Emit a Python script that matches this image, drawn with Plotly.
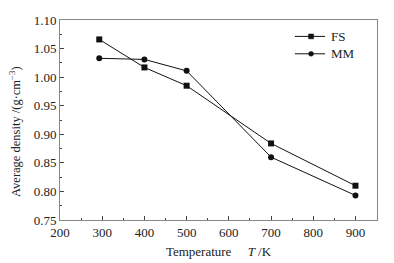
import plotly.graph_objects as go

temps = [293, 400, 500, 700, 900]
fs = [1.066, 1.017, 0.985, 0.884, 0.810]
mm = [1.033, 1.031, 1.011, 0.860, 0.793]
series_names = ["FS", "MM"]

font = dict(family="Liberation Serif, Times New Roman, serif", size=13, color="#222")
ink = "#111"

fig = go.Figure()
fig.add_trace(go.Scatter(x=temps, y=fs, name=series_names[0], mode="lines+markers",
                         line=dict(color=ink, width=1),
                         marker=dict(symbol="square", size=6, color=ink)))
fig.add_trace(go.Scatter(x=temps, y=mm, name=series_names[1], mode="lines+markers",
                         line=dict(color=ink, width=1),
                         marker=dict(symbol="circle", size=6, color=ink)))

axis_common = dict(showline=True, linecolor="#888", linewidth=1, mirror=True,
                   ticks="inside", ticklen=4, tickcolor="#444", showgrid=False,
                   zeroline=False, tickfont=font, ticklabeloverflow="allow")
fig.update_xaxes(range=[200, 951], tickvals=[200, 300, 400, 500, 600, 700, 800, 900],
                 minor=dict(ticks="inside", ticklen=2, dtick=50, tickcolor="#444"),
                 title=dict(text="Temperature     <i>T</i> /K", font=font, standoff=8),
                 **axis_common)
fig.update_yaxes(range=[0.75, 1.10], dtick=0.05, tickformat=".2f",
                 minor=dict(ticks="inside", ticklen=2, dtick=0.025, tickcolor="#444"),
                 **axis_common)

# y-axis title placed as a rotated annotation (slightly below the axis centre, as in the source)
fig.add_annotation(text="Average density /(g·cm<sup>−3</sup>)", xref="paper", yref="paper",
                   x=0, y=0.44, xanchor="center", yanchor="middle", xshift=-45,
                   textangle=-90, showarrow=False, font=dict(font, size=12.5))

# manual legend (paper coordinates of the plot area)
leg_x0, leg_x1, leg_xm, leg_xt = 0.741, 0.836, 0.792, 0.848
leg_ys = [0.918, 0.831]
dx, dy = 2.5 / 317, 2.5 / 207
for name, ly, sym in zip(series_names, leg_ys, ["rect", "circle"]):
    fig.add_shape(type="line", xref="paper", yref="paper", x0=leg_x0, x1=leg_x1,
                  y0=ly, y1=ly, line=dict(color=ink, width=1))
    fig.add_shape(type=sym, xref="paper", yref="paper", x0=leg_xm - dx, x1=leg_xm + dx,
                  y0=ly - dy, y1=ly + dy, line=dict(color=ink, width=0.5), fillcolor=ink)
    fig.add_annotation(text=name, xref="paper", yref="paper", x=leg_xt, y=ly,
                       xanchor="left", yanchor="middle", showarrow=False, font=font)

fig.update_layout(width=386, height=255, margin=dict(l=52, r=17, t=5, b=43),
                  paper_bgcolor="white", plot_bgcolor="white", font=font,
                  showlegend=False)
fig.write_html("out.html")
